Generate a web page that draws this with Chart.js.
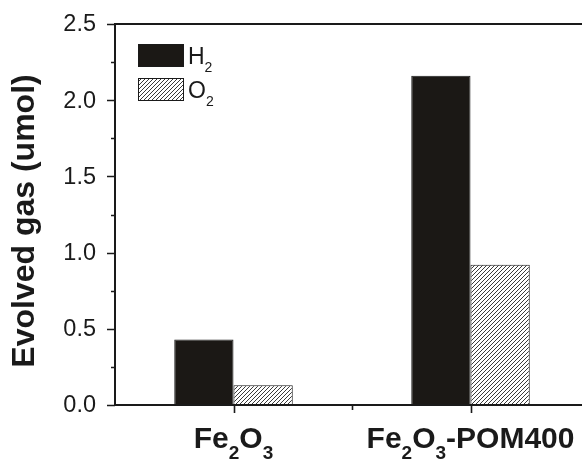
<!DOCTYPE html>
<html>
<head>
<meta charset="utf-8">
<script src="https://cdn.jsdelivr.net/npm/chart.js@4.4.1/dist/chart.umd.min.js"></script>
<style>
    html, body { margin: 0; padding: 0; background: #fff; }
    #wrap { width: 582px; height: 461px; overflow: hidden; }
</style>
</head>
<body>
<div id="wrap"><canvas id="gasChart" width="589" height="461"></canvas></div>
<script>
// categories use "_" for a one-character subscript
const categories = ['Fe_2O_3', 'Fe_2O_3-POM400'];
const seriesNames = ['H_2', 'O_2'];
const h2Values = [0.43, 2.16];
const o2Values = [0.13, 0.92];
const yTicks = [0.0, 0.5, 1.0, 1.5, 2.0, 2.5];
const yMinorTicks = [0.25, 0.75, 1.25, 1.75, 2.25];
const yTitle = 'Evolved gas (umol)';

const FONT = '"Liberation Sans", Arial, sans-serif';

// --- hatch pattern for the O2 bars
function makeHatch() {
    const s = 4;
    const c = document.createElement('canvas');
    c.width = s; c.height = s;
    const g = c.getContext('2d');
    g.fillStyle = '#fff';
    g.fillRect(0, 0, s, s);
    g.strokeStyle = '#3a3a3a';
    g.lineWidth = 1;
    g.beginPath();
    g.moveTo(0, s); g.lineTo(s, 0);
    g.moveTo(-1, 1); g.lineTo(1, -1);
    g.moveTo(s - 1, s + 1); g.lineTo(s + 1, s - 1);
    g.stroke();
    return g.createPattern(c, 'repeat');
}

// --- text with "_x" subscripts
function parseRich(text) {
    const parts = [];
    let buf = '';
    for (let i = 0; i < text.length; i++) {
        if (text[i] === '_' && i + 1 < text.length) {
            if (buf) parts.push({ t: buf, sub: false });
            buf = '';
            parts.push({ t: text[i + 1], sub: true });
            i++;
        } else {
            buf += text[i];
        }
    }
    if (buf) parts.push({ t: buf, sub: false });
    return parts;
}

function drawRich(ctx, text, x, y, size, weight, align) {
    const parts = parseRich(text);
    const subSize = Math.round(size * 0.62);
    const fontOf = p => weight + ' ' + (p.sub ? subSize : size) + 'px ' + FONT;
    let total = 0;
    parts.forEach(p => { ctx.font = fontOf(p); total += ctx.measureText(p.t).width; });
    let cx = align === 'center' ? x - total / 2 : x;
    ctx.textAlign = 'left';
    ctx.textBaseline = 'alphabetic';
    parts.forEach(p => {
        ctx.font = fontOf(p);
        ctx.fillText(p.t, cx, p.sub ? y + size * 0.38 : y);
        cx += ctx.measureText(p.t).width;
    });
}

const hatch = makeHatch();
const barColors = ['#1b1815', hatch];

const framePlugin = {
    id: 'frame',
    afterDraw(chart) {
        const ctx = chart.ctx;
        const area = chart.chartArea;
        const x = chart.scales.x, y = chart.scales.y;
        ctx.save();
        ctx.strokeStyle = '#1a1a1a';
        ctx.fillStyle = '#1a1a1a';

        // axis lines
        ctx.lineWidth = 2;
        ctx.beginPath();
        ctx.moveTo(area.left, area.top); ctx.lineTo(chart.width, area.top);
        ctx.moveTo(area.left, area.top - 1); ctx.lineTo(area.left, area.bottom + 1);
        ctx.moveTo(area.left - 1, area.bottom); ctx.lineTo(chart.width, area.bottom);
        ctx.stroke();

        // y ticks
        ctx.lineWidth = 1.6;
        ctx.beginPath();
        yTicks.forEach(v => {
            const py = Math.round(y.getPixelForValue(v)) + 0.5;
            ctx.moveTo(area.left - 8, py); ctx.lineTo(area.left, py);
        });
        yMinorTicks.forEach(v => {
            const py = Math.round(y.getPixelForValue(v)) + 0.5;
            ctx.moveTo(area.left - 4, py); ctx.lineTo(area.left, py);
        });
        // x ticks
        categories.forEach((c, i) => {
            const px = Math.round(x.getPixelForValue(i)) + 0.5;
            ctx.moveTo(px, area.bottom); ctx.lineTo(px, area.bottom + 8);
        });
        const mid = Math.round((x.getPixelForValue(0) + x.getPixelForValue(1)) / 2) + 0.5;
        ctx.moveTo(mid, area.bottom); ctx.lineTo(mid, area.bottom + 5);
        ctx.stroke();

        // y tick labels
        ctx.font = '23.5px ' + FONT;
        ctx.textAlign = 'right';
        ctx.textBaseline = 'middle';
        yTicks.forEach(v => {
            ctx.fillText(v.toFixed(1), area.left - 19, y.getPixelForValue(v) + 1);
        });

        // x category labels
        categories.forEach((c, i) => {
            drawRich(ctx, c, x.getPixelForValue(i), area.bottom + 43, 30, 'bold', 'center');
        });

        // y title
        ctx.save();
        ctx.translate(25, 221);
        ctx.rotate(-Math.PI / 2);
        ctx.font = 'bold 32px ' + FONT;
        ctx.textAlign = 'center';
        ctx.textBaseline = 'middle';
        ctx.fillText(yTitle, 0, 0);
        ctx.restore();

        // legend
        seriesNames.forEach((name, i) => {
            const top = 44 + i * 34;
            ctx.fillStyle = barColors[i];
            ctx.fillRect(138, top, 45, 22);
            ctx.lineWidth = 1;
            ctx.strokeStyle = '#1a1a1a';
            ctx.strokeRect(138.5, top + 0.5, 45, 22);
            ctx.fillStyle = '#1a1a1a';
            drawRich(ctx, name, 188, top + 19.5, 23, 'normal', 'left');
        });
        ctx.restore();
    }
};

new Chart(document.getElementById('gasChart').getContext('2d'), {
    type: 'bar',
    data: {
        labels: categories,
        datasets: [
            {
                label: seriesNames[0],
                data: h2Values,
                backgroundColor: barColors[0],
                borderColor: '#1a1a1a',
                borderWidth: 1,
                barPercentage: 1,
                categoryPercentage: 0.5
            },
            {
                label: seriesNames[1],
                data: o2Values,
                backgroundColor: barColors[1],
                borderColor: '#1a1a1a',
                borderWidth: 1,
                barPercentage: 1,
                categoryPercentage: 0.5
            }
        ]
    },
    options: {
        responsive: false,
        animation: false,
        layout: { padding: { top: 24, left: 0, right: 0, bottom: 0 } },
        plugins: { legend: { display: false }, tooltip: { enabled: false } },
        scales: {
            x: {
                grid: { display: false },
                border: { display: false },
                ticks: { display: false },
                afterFit(scale) { scale.height = 56; }
            },
            y: {
                min: 0,
                max: 2.5,
                grid: { display: false },
                border: { display: false },
                ticks: { display: false },
                afterFit(scale) { scale.width = 115; }
            }
        }
    },
    plugins: [framePlugin]
});
</script>
</body>
</html>
